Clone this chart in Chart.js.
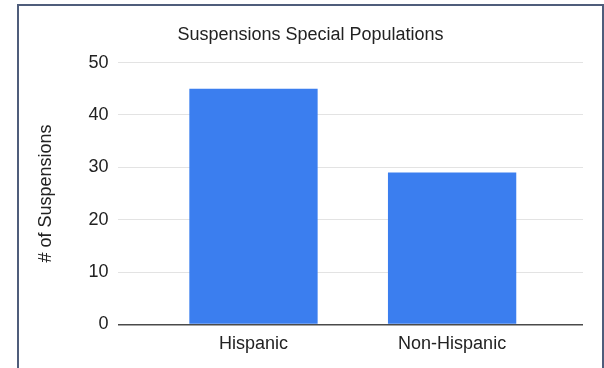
<!DOCTYPE html>
<html>
<head>
<meta charset="utf-8">
<script src="https://cdn.jsdelivr.net/npm/chart.js@4/dist/chart.umd.min.js"></script>
<style>
    html, body {
        margin: 0;
        padding: 0;
        background: #fff;
        overflow: hidden;
    }
    .frame {
        position: absolute;
        left: 17px;
        top: 4px;
        width: 583px;
        height: 420px;
        border: 2px solid #4f5d7b;
        background: #fff;
    }
    .chart-box {
        position: absolute;
        left: 0;
        top: 0;
        width: 583px;
        height: 362px;
    }
</style>
</head>
<body>
<div class="frame">
    <div class="chart-box">
        <canvas id="suspensionsChart"></canvas>
    </div>
</div>
<script>
// Suspension counts by ethnicity
const categories = ['Hispanic', 'Non-Hispanic'];
const suspensions = [45, 29];
const yTicks = [0, 10, 20, 30, 40, 50];

const FONT = '"Liberation Sans", Arial, Helvetica, sans-serif';

document.addEventListener('DOMContentLoaded', () => {
    initSuspensionsChart();
});

function initSuspensionsChart() {
    const ctx = document.getElementById('suspensionsChart').getContext('2d');

    new Chart(ctx, {
        type: 'bar',
        data: {
            datasets: [{
                label: '# of Suspensions',
                data: suspensions.map((v, i) => ({ x: i, y: v })),
                backgroundColor: '#3b7eef',
                borderWidth: 0,
                barPercentage: 0.646,
                categoryPercentage: 1
            }]
        },
        options: {
            responsive: true,
            maintainAspectRatio: false,
            animation: false,
            layout: {
                padding: { left: 0, right: 0, top: 0, bottom: 4 }
            },
            plugins: {
                legend: { display: false },
                tooltip: { enabled: false },
                title: {
                    display: true,
                    text: 'Suspensions Special Populations',
                    color: '#222',
                    font: { family: FONT, size: 18, weight: 'normal' },
                    padding: { top: 18, bottom: 17 }
                }
            },
            scales: {
                x: {
                    type: 'linear',
                    offset: false,
                    bounds: 'data',
                    min: -0.684,
                    max: 1.659,
                    grid: { display: false, drawTicks: false, tickLength: 0 },
                    border: { display: false },
                    afterBuildTicks: (scale) => {
                        scale.ticks = categories.map((c, i) => ({ value: i }));
                    },
                    // keep the plot clear of the right frame edge without moving the title
                    afterFit: (scale) => {
                        scale.paddingRight = 19;
                    },
                    ticks: {
                        color: '#222',
                        padding: 9,
                        maxRotation: 0,
                        autoSkip: false,
                        font: { family: FONT, size: 18 },
                        callback: (value) => categories[value]
                    }
                },
                y: {
                    min: yTicks[0],
                    max: yTicks[yTicks.length - 1],
                    afterBuildTicks: (scale) => {
                        scale.ticks = yTicks.map(v => ({ value: v }));
                    },
                    grid: {
                        drawTicks: false,
                        tickLength: 0,
                        color: (c) => c.tick && c.tick.value === 0 ? '#4a4a4a' : '#e3e3e3',
                        lineWidth: (c) => c.tick && c.tick.value === 0 ? 1.5 : 1
                    },
                    border: { display: false },
                    ticks: {
                        color: '#222',
                        padding: 9,
                        font: { family: FONT, size: 18 }
                    },
                    title: {
                        display: true,
                        text: '# of Suspensions',
                        color: '#222',
                        font: { family: FONT, size: 18 },
                        padding: { top: 16, bottom: 23 }
                    }
                }
            }
        }
    });
}
</script>
</body>
</html>
